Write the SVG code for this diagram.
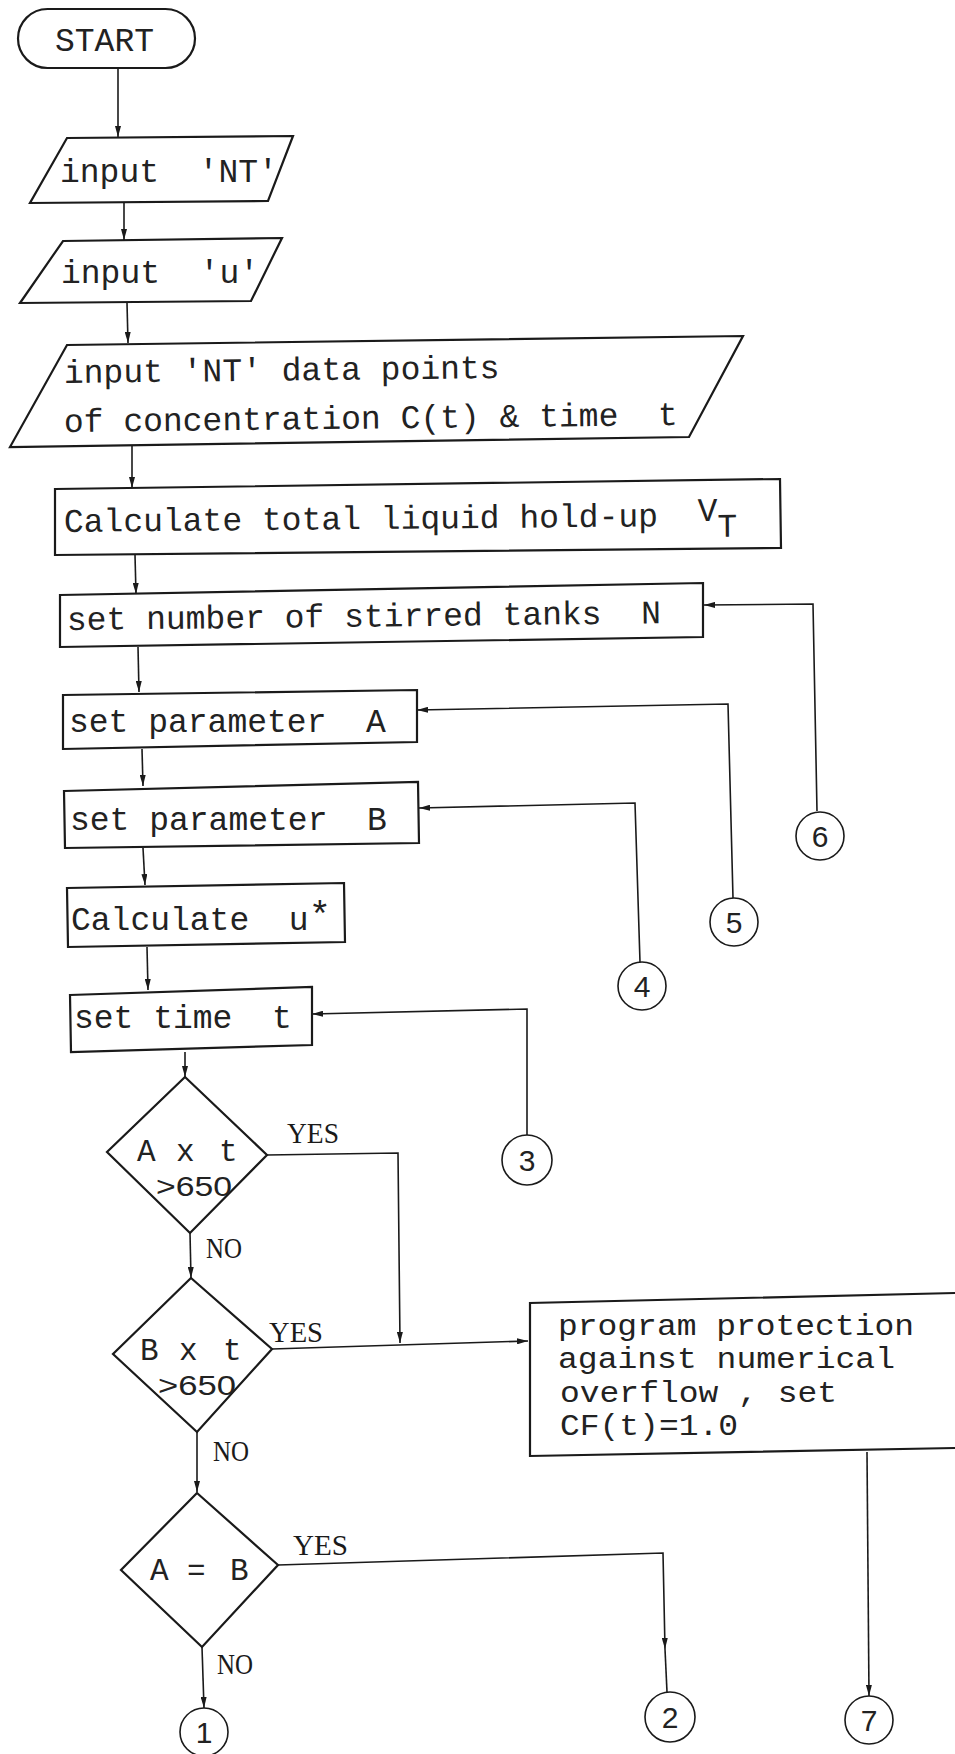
<svg xmlns="http://www.w3.org/2000/svg" width="955" height="1754" viewBox="0 0 955 1754">
<style>
.box{fill:none;stroke:#1a1a1a;stroke-width:2.2;stroke-linejoin:miter}
.conn{fill:none;stroke:#1a1a1a;stroke-width:1.6}
.circ{fill:none;stroke:#1a1a1a;stroke-width:1.6}
.t{font-family:"Liberation Mono","Courier New",monospace;font-size:33px;fill:#222;white-space:pre}
.dt{font-family:"Liberation Mono","Courier New",monospace;font-size:31px;fill:#222}
.pt{font-family:"Liberation Mono","Courier New",monospace;font-size:29px;fill:#222;white-space:pre}
.lbl{font-family:"Liberation Serif","Times New Roman",serif;font-size:29px;fill:#1a1a1a}
.hw{font-family:"Liberation Sans",Arial,sans-serif;font-size:28px;fill:#222}
.num{font-family:"Liberation Sans",Arial,sans-serif;font-size:30px;fill:#222;text-anchor:middle}
</style>
<defs>
<marker id="ah" viewBox="0 0 11 6" refX="11" refY="3" markerWidth="11" markerHeight="6" markerUnits="userSpaceOnUse" orient="auto"><path d="M0,0 L11,3 L0,6 z" fill="#1a1a1a"/></marker>
</defs>
<rect width="955" height="1754" fill="#ffffff"/>

<g id="connectors">
<path class="conn" d="M118,68 L118,137" marker-end="url(#ah)"/>
<path class="conn" d="M124,203 L124,240" marker-end="url(#ah)"/>
<path class="conn" d="M127,303 L128,343" marker-end="url(#ah)"/>
<path class="conn" d="M132,446 L132,488" marker-end="url(#ah)"/>
<path class="conn" d="M135,555 L136,594" marker-end="url(#ah)"/>
<path class="conn" d="M138,647 L139,692" marker-end="url(#ah)"/>
<path class="conn" d="M142,749 L143,786" marker-end="url(#ah)"/>
<path class="conn" d="M143,848 L145,885" marker-end="url(#ah)"/>
<path class="conn" d="M147,947 L148,990" marker-end="url(#ah)"/>
<path class="conn" d="M185,1052 L185,1077" marker-end="url(#ah)"/>
<path class="conn" d="M190,1233 L191,1278" marker-end="url(#ah)"/>
<path class="conn" d="M267,1155 L398,1153 L400,1343" marker-end="url(#ah)"/>
<path class="conn" d="M272,1349 L528,1341" marker-end="url(#ah)"/>
<path class="conn" d="M197,1432 L197,1492" marker-end="url(#ah)"/>
<path class="conn" d="M278,1565 L663,1553 L665,1649" marker-end="url(#ah)"/>
<path class="conn" d="M665,1649 L667,1692"/>
<path class="conn" d="M202,1647 L204,1708" marker-end="url(#ah)"/>
<path class="conn" d="M867,1452 L869,1696" marker-end="url(#ah)"/>
<path class="conn" d="M527,1135 L527,1009 L312,1014" marker-end="url(#ah)"/>
<path class="conn" d="M640,962 L635,803 L419,808" marker-end="url(#ah)"/>
<path class="conn" d="M733,898 L728,704 L417,710" marker-end="url(#ah)"/>
<path class="conn" d="M817,811 L813,604 L704,605" marker-end="url(#ah)"/>
</g>

<g id="n-start">
<rect class="box" x="18" y="9" width="177" height="59" rx="29.5"/>
<text class="t" x="55" y="51">START</text>
</g>

<g id="n-input-nt">
<polygon class="box" points="67,138 293,136 268,201 30,203"/>
<text class="t" x="60" y="182">input  'NT'</text>
</g>

<g id="n-input-u">
<polygon class="box" points="63,241 282,238 251,301 20,303"/>
<text class="t" x="61" y="283">input  'u'</text>
</g>

<g id="n-input-data">
<polygon class="box" points="67,345 743,336 689,437 10,447"/>
<text class="t" x="64" y="383" transform="rotate(-0.65 64 383)">input 'NT' data points</text>
<text class="t" x="64" y="432" transform="rotate(-0.65 64 432)">of concentration C(t) &amp; time  t</text>
</g>

<g id="n-calc-vt">
<polygon class="box" points="55,489 780,479 781,548 55,555"/>
<text class="t" x="64" y="532" transform="rotate(-0.55 64 532)">Calculate total liquid hold-up  <tspan dy="-5">V</tspan><tspan dy="16">T</tspan></text>
</g>

<g id="n-set-n">
<polygon class="box" points="60,595 703,583 703,637 60,647"/>
<text class="t" x="67" y="630" transform="rotate(-0.65 67 630)">set number of stirred tanks  N</text>
</g>

<g id="n-set-a">
<polygon class="box" points="63,695 417,690 417,742 63,749"/>
<text class="t" x="69" y="732">set parameter  A</text>
</g>

<g id="n-set-b">
<polygon class="box" points="64,791 418,782 419,843 65,848"/>
<text class="t" x="70" y="830">set parameter  B</text>
</g>

<g id="n-calc-u">
<polygon class="box" points="67,888 344,883 345,942 68,947"/>
<text class="t" x="71" y="930">Calculate  u<tspan dy="-3" font-size="37">*</tspan></text>
</g>

<g id="n-set-time">
<polygon class="box" points="70,995 312,987 312,1045 71,1052"/>
<text class="t" x="74" y="1028">set time  t</text>
</g>

<g id="n-dec-a">
<polygon class="box" points="185,1077 267,1155 190,1233 107,1152"/>
<text class="dt" y="1161"><tspan x="137">A</tspan><tspan x="176">x</tspan><tspan x="219">t</tspan></text>
<text class="hw" x="156" y="1196" textLength="76" lengthAdjust="spacingAndGlyphs">&gt;650</text>
<text class="lbl" x="287" y="1143" textLength="52" lengthAdjust="spacingAndGlyphs">YES</text>
<text class="lbl" x="206" y="1258" textLength="36" lengthAdjust="spacingAndGlyphs">NO</text>
</g>

<g id="n-dec-b">
<polygon class="box" points="191,1278 272,1349 197,1432 113,1354"/>
<text class="dt" y="1360"><tspan x="140">B</tspan><tspan x="179">x</tspan><tspan x="223">t</tspan></text>
<text class="hw" x="158" y="1395" textLength="78" lengthAdjust="spacingAndGlyphs">&gt;650</text>
<text class="lbl" x="269" y="1342" textLength="54" lengthAdjust="spacingAndGlyphs">YES</text>
<text class="lbl" x="213" y="1461" textLength="36" lengthAdjust="spacingAndGlyphs">NO</text>
</g>

<g id="n-dec-eq">
<polygon class="box" points="197,1493 278,1565 202,1647 121,1570"/>
<text class="dt" y="1580"><tspan x="150">A</tspan><tspan x="187">=</tspan><tspan x="230">B</tspan></text>
<text class="lbl" x="293" y="1555" textLength="55" lengthAdjust="spacingAndGlyphs">YES</text>
<text class="lbl" x="217" y="1674" textLength="36" lengthAdjust="spacingAndGlyphs">NO</text>
</g>

<g id="n-protect">
<path class="box" d="M955,1293 L530,1303 L530,1456 L955,1448"/>
<text class="pt" x="558" y="1335" textLength="356" lengthAdjust="spacingAndGlyphs">program protection</text>
<text class="pt" x="558" y="1368" textLength="337" lengthAdjust="spacingAndGlyphs">against numerical</text>
<text class="pt" x="560" y="1402" textLength="277" lengthAdjust="spacingAndGlyphs">overflow , set</text>
<text class="pt" x="560" y="1435" textLength="178" lengthAdjust="spacingAndGlyphs">CF(t)=1.0</text>
</g>

<g id="c1"><circle class="circ" cx="204" cy="1732" r="24"/><text class="num" x="204" y="1743">1</text></g>
<g id="c2"><circle class="circ" cx="670" cy="1717" r="25"/><text class="num" x="670" y="1728">2</text></g>
<g id="c3"><circle class="circ" cx="527" cy="1160" r="25"/><text class="num" x="527" y="1171">3</text></g>
<g id="c4"><circle class="circ" cx="642" cy="986" r="24"/><text class="num" x="642" y="997">4</text></g>
<g id="c5"><circle class="circ" cx="734" cy="922" r="24"/><text class="num" x="734" y="933">5</text></g>
<g id="c6"><circle class="circ" cx="820" cy="836" r="24"/><text class="num" x="820" y="847">6</text></g>
<g id="c7"><circle class="circ" cx="869" cy="1720" r="24"/><text class="num" x="869" y="1731">7</text></g>
</svg>
